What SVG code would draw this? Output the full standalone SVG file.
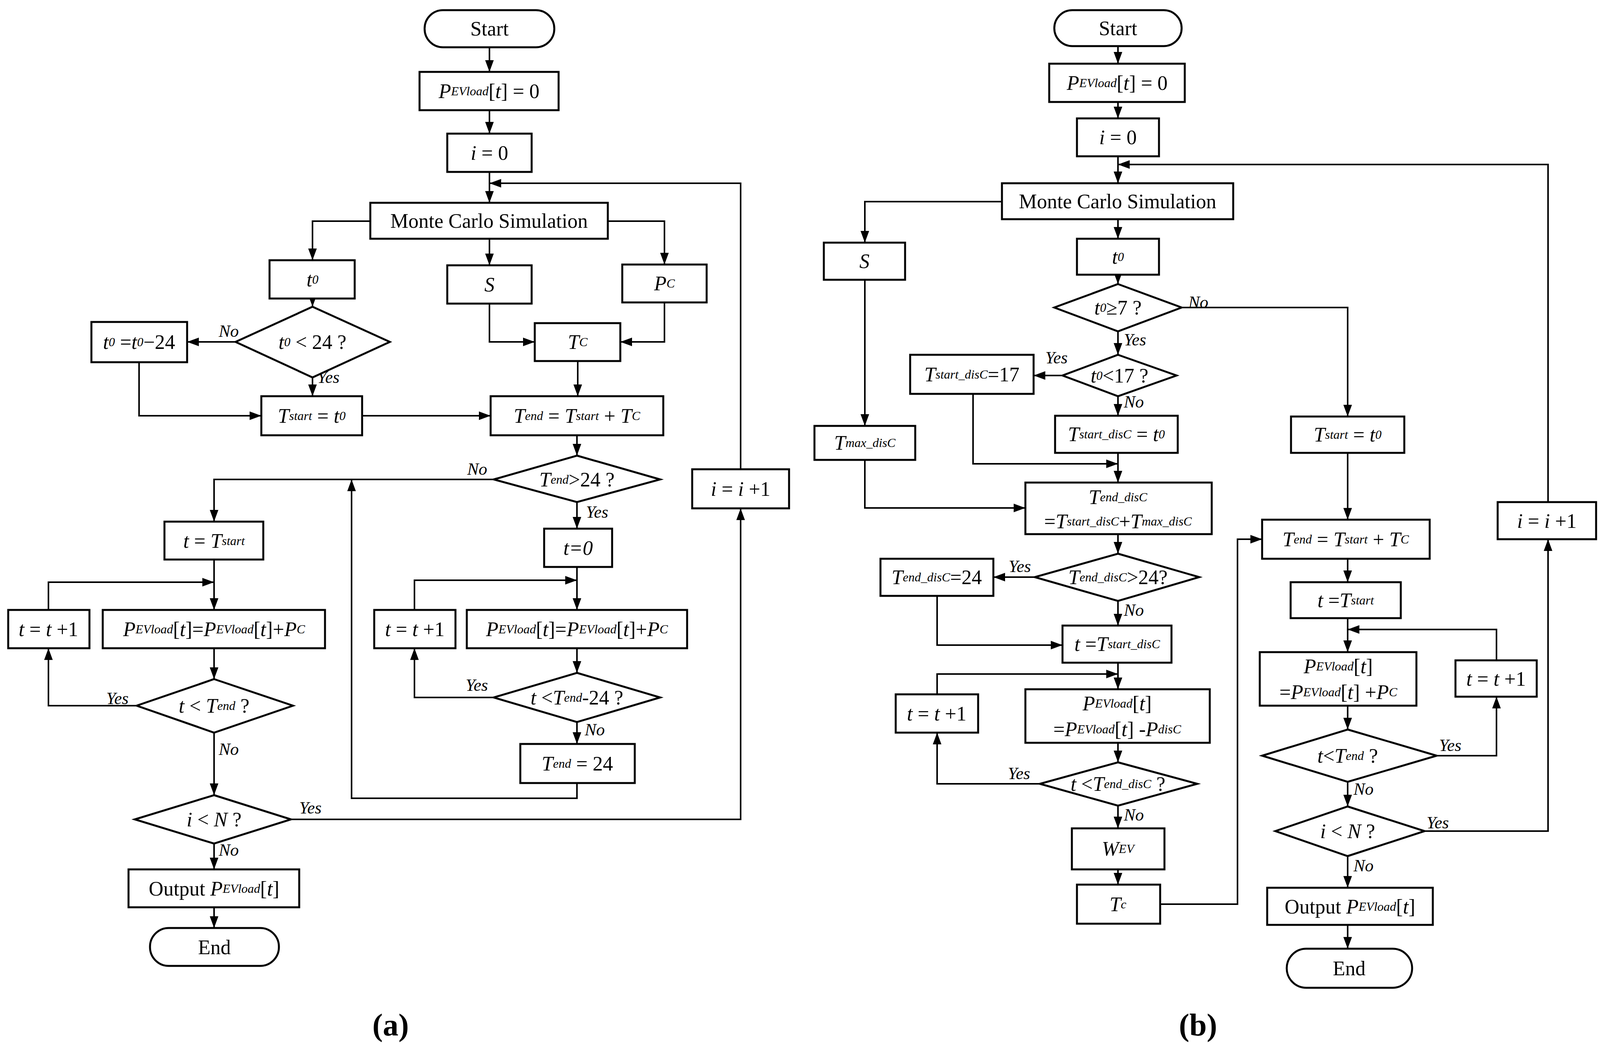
<svg xmlns="http://www.w3.org/2000/svg" width="4129" height="2677" viewBox="0 0 4129 2677">
<defs>
<marker id="ar" markerUnits="userSpaceOnUse" markerWidth="32" markerHeight="24" refX="30" refY="11" orient="auto"><path d="M0,0 L30,11 L0,22 z" fill="#000"/></marker>
<style>
.b{fill:#fff;stroke:#000;stroke-width:5}
.c{fill:none;stroke:#000;stroke-width:4;marker-end:url(#ar)}
.n{fill:none;stroke:#000;stroke-width:4}
text{font-family:"Liberation Serif",serif;font-size:52px;fill:#000}
.t{text-anchor:middle;dominant-baseline:central}
.i{font-style:italic}
.s{font-style:italic;font-size:32px}
.l{font-style:italic;font-size:44px}
.cap{font-size:80px;font-weight:bold;text-anchor:middle}
</style>
</defs>
<rect width="4129" height="2677" fill="#fff"/>
<g id="connectors">
<path class="c" d="M1253,121V184"/><path class="c" d="M1253,282V342"/><path class="c" d="M1253,440V519"/>
<path class="c" d="M1896,1201V469H1253"/>
<path class="c" d="M948,566H800V666"/><path class="c" d="M1253,611V679"/><path class="c" d="M1556,566H1701V677"/>
<path class="c" d="M800,764V785"/><path class="c" d="M603,875H479"/><path class="c" d="M800,966V1014"/>
<path class="c" d="M356,927V1064H669"/><path class="c" d="M927,1064H1256"/>
<path class="c" d="M1253,777V875H1369"/><path class="c" d="M1701,774V875H1588"/>
<path class="c" d="M1479,924V1014"/><path class="c" d="M1477,1114V1166"/>
<path class="c" d="M1264,1227H548V1335"/><path class="c" d="M1477,1285V1353"/>
<path class="c" d="M548,1432V1561"/><path class="c" d="M548,1659V1738"/>
<path class="c" d="M350,1806H124V1659"/><path class="c" d="M124,1561V1490H548"/>
<path class="c" d="M548,1875V2035"/><path class="c" d="M548,2159V2225"/><path class="c" d="M548,2322V2375"/>
<path class="c" d="M745,2097H1896V1301"/>
<path class="c" d="M1477,1451V1561"/><path class="c" d="M1477,1659V1722"/>
<path class="c" d="M1264,1785H1061V1659"/><path class="c" d="M1061,1561V1485H1477"/>
<path class="c" d="M1477,1848V1904"/><path class="c" d="M1477,2004V2043H900V1227"/>

<path class="c" d="M2862,118V163"/><path class="c" d="M2862,261V303"/><path class="c" d="M2862,400V469"/>
<path class="c" d="M3963,1285V421H2862"/>
<path class="c" d="M2565,516H2214V621"/><path class="c" d="M2862,561V611"/><path class="c" d="M2862,703V727"/>
<path class="c" d="M3025,787H3450V1066"/><path class="c" d="M2862,848V908"/><path class="c" d="M2720,961H2646"/>
<path class="c" d="M2862,1014V1064"/><path class="c" d="M2491,1008V1187H2862"/><path class="c" d="M2862,1159V1235"/>
<path class="c" d="M2214,716V1090"/><path class="c" d="M2214,1177V1300H2625"/>
<path class="c" d="M2862,1367V1417"/><path class="c" d="M2649,1477H2543"/><path class="c" d="M2862,1538V1601"/>
<path class="c" d="M2399,1525V1651H2720"/><path class="c" d="M2862,1696V1764"/><path class="c" d="M2862,1901V1951"/>
<path class="c" d="M2662,2006H2399V1875"/><path class="c" d="M2399,1777V1725H2862"/>
<path class="c" d="M2862,2062V2120"/><path class="c" d="M2862,2225V2264"/>
<path class="c" d="M2970,2314H3168V1380H3231"/>
<path class="c" d="M3450,1159V1330"/><path class="c" d="M3450,1430V1490"/><path class="c" d="M3450,1582V1669"/>
<path class="c" d="M3450,1806V1867"/><path class="c" d="M3678,1934H3831V1783"/><path class="c" d="M3831,1690V1611H3450"/>
<path class="c" d="M3450,2001V2064"/><path class="c" d="M3647,2127H3963V1380"/><path class="c" d="M3450,2191V2272"/>
<path class="c" d="M3450,2367V2428"/>
<text class="l" x="560" y="862">No</text><text class="l" x="812" y="980">Yes</text>
<text class="l" x="1196" y="1215">No</text><text class="l" x="1500" y="1325">Yes</text>
<text class="l" x="272" y="1802">Yes</text><text class="l" x="560" y="1932">No</text>
<text class="l" x="560" y="2190">No</text><text class="l" x="766" y="2082">Yes</text>
<text class="l" x="1192" y="1768">Yes</text><text class="l" x="1497" y="1882">No</text>
<text class="l" x="3042" y="788">No</text><text class="l" x="2877" y="884">Yes</text>
<text class="l" x="2676" y="930">Yes</text><text class="l" x="2877" y="1043">No</text>
<text class="l" x="2582" y="1464">Yes</text><text class="l" x="2877" y="1576">No</text>
<text class="l" x="2580" y="1994">Yes</text><text class="l" x="2877" y="2100">No</text>
<text class="l" x="3684" y="1922">Yes</text><text class="l" x="3465" y="2034">No</text>
<text class="l" x="3652" y="2120">Yes</text><text class="l" x="3465" y="2230">No</text>
</g>

<g id="a-start"><rect class="b" x="1087" y="26" width="332" height="95" rx="47"/><text class="t" x="1253" y="73">Start</text></g>
<g id="a-init"><rect class="b" x="1074" y="184" width="356" height="98"/><text class="t" x="1252" y="233"><tspan class="i">P</tspan><tspan class="s">EVload</tspan>[<tspan class="i">t</tspan>] = 0</text></g>
<g id="a-i0"><rect class="b" x="1145" y="342" width="216" height="98"/><text class="t" x="1253" y="391"><tspan class="i">i</tspan> = 0</text></g>
<g id="a-mc"><rect class="b" x="948" y="519" width="608" height="92"/><text class="t" x="1252" y="565">Monte Carlo Simulation</text></g>
<g id="a-t0"><rect class="b" x="690" y="666" width="218" height="98"/><text class="t" x="800" y="715"><tspan class="i">t</tspan><tspan class="s">0</tspan></text></g>
<g id="a-s"><rect class="b" x="1145" y="679" width="216" height="98"/><text class="t i" x="1253" y="728">S</text></g>
<g id="a-pc"><rect class="b" x="1593" y="677" width="216" height="97"/><text class="t" x="1701" y="725"><tspan class="i">P</tspan><tspan class="s">C</tspan></text></g>
<g id="a-d1"><polygon class="b" points="800,785 998,875 800,966 603,875"/><text class="t" x="800" y="875"><tspan class="i">t</tspan><tspan class="s">0</tspan> &lt; 24 ?</text></g>
<g id="a-t0m"><rect class="b" x="234" y="824" width="245" height="103"/><text class="t" x="356" y="875"><tspan class="i">t</tspan><tspan class="s">0</tspan> =<tspan class="i">t</tspan><tspan class="s">0</tspan>−24</text></g>
<g id="a-tc"><rect class="b" x="1369" y="827" width="219" height="97"/><text class="t" x="1479" y="875"><tspan class="i">T</tspan><tspan class="s">C</tspan></text></g>
<g id="a-tstart"><rect class="b" x="669" y="1014" width="258" height="100"/><text class="t" x="798" y="1064"><tspan class="i">T</tspan><tspan class="s">start</tspan> = <tspan class="i">t</tspan><tspan class="s">0</tspan></text></g>
<g id="a-tend"><rect class="b" x="1256" y="1014" width="442" height="100"/><text class="t" x="1477" y="1064"><tspan class="i">T</tspan><tspan class="s">end</tspan> = <tspan class="i">T</tspan><tspan class="s">start</tspan> + <tspan class="i">T</tspan><tspan class="s">C</tspan></text></g>
<g id="a-d2"><polygon class="b" points="1477,1166 1690,1227 1477,1285 1264,1227"/><text class="t" x="1477" y="1227"><tspan class="i">T</tspan><tspan class="s">end</tspan>&gt;24  ?</text></g>
<g id="a-inc"><rect class="b" x="1772" y="1201" width="248" height="100"/><text class="t" x="1896" y="1251"><tspan class="i">i</tspan> = <tspan class="i">i</tspan> +1</text></g>
<g id="a-tts"><rect class="b" x="421" y="1335" width="253" height="97"/><text class="t" x="548" y="1384"><tspan class="i">t</tspan> = <tspan class="i">T</tspan><tspan class="s">start</tspan></text></g>
<g id="a-t00"><rect class="b" x="1393" y="1353" width="174" height="98"/><text class="t i" x="1480" y="1402" font-size="40">t=0</text></g>
<g id="a-inc1"><rect class="b" x="21" y="1561" width="208" height="98"/><text class="t" x="124" y="1610"><tspan class="i">t</tspan> = <tspan class="i">t</tspan> +1</text></g>
<g id="a-pev1"><rect class="b" x="263" y="1561" width="569" height="98"/><text class="t" x="548" y="1610"><tspan class="i">P</tspan><tspan class="s">EVload</tspan>[<tspan class="i">t</tspan>]=<tspan class="i">P</tspan><tspan class="s">EVload</tspan>[<tspan class="i">t</tspan>]+<tspan class="i">P</tspan><tspan class="s">C</tspan></text></g>
<g id="a-d3"><polygon class="b" points="548,1738 750,1806 548,1875 350,1806"/><text class="t" x="548" y="1806"><tspan class="i">t</tspan> &lt; <tspan class="i">T</tspan><tspan class="s">end</tspan> ?</text></g>
<g id="a-inc2"><rect class="b" x="958" y="1561" width="208" height="98"/><text class="t" x="1062" y="1610"><tspan class="i">t</tspan> = <tspan class="i">t</tspan> +1</text></g>
<g id="a-pev2"><rect class="b" x="1195" y="1561" width="564" height="98"/><text class="t" x="1477" y="1610"><tspan class="i">P</tspan><tspan class="s">EVload</tspan>[<tspan class="i">t</tspan>]=<tspan class="i">P</tspan><tspan class="s">EVload</tspan>[<tspan class="i">t</tspan>]+<tspan class="i">P</tspan><tspan class="s">C</tspan></text></g>
<g id="a-d4"><polygon class="b" points="1477,1722 1690,1785 1477,1848 1264,1785"/><text class="t" x="1477" y="1785"><tspan class="i">t</tspan> &lt;<tspan class="i">T</tspan><tspan class="s">end</tspan>-24 ?</text></g>
<g id="a-te24"><rect class="b" x="1332" y="1904" width="293" height="100"/><text class="t" x="1478" y="1954"><tspan class="i">T</tspan><tspan class="s">end</tspan> = 24</text></g>
<g id="a-d5"><polygon class="b" points="548,2035 745,2097 548,2159 345,2097"/><text class="t" x="548" y="2097"><tspan class="i">i</tspan> &lt; <tspan class="i">N</tspan> ?</text></g>
<g id="a-out"><rect class="b" x="329" y="2225" width="437" height="97"/><text class="t" x="548" y="2274">Output  <tspan class="i">P</tspan><tspan class="s">EVload</tspan>[<tspan class="i">t</tspan>]</text></g>
<g id="a-end"><rect class="b" x="384" y="2375" width="330" height="97" rx="48"/><text class="t" x="549" y="2424">End</text></g>
<text class="cap" x="1000" y="2650">(a)</text>

<g id="b-start"><rect class="b" x="2699" y="26" width="326" height="92" rx="46"/><text class="t" x="2862" y="72">Start</text></g>
<g id="b-init"><rect class="b" x="2686" y="163" width="347" height="98"/><text class="t" x="2860" y="212"><tspan class="i">P</tspan><tspan class="s">EVload</tspan>[<tspan class="i">t</tspan>] = 0</text></g>
<g id="b-i0"><rect class="b" x="2757" y="303" width="210" height="97"/><text class="t" x="2862" y="351"><tspan class="i">i</tspan> = 0</text></g>
<g id="b-mc"><rect class="b" x="2565" y="469" width="592" height="92"/><text class="t" x="2861" y="515">Monte Carlo Simulation</text></g>
<g id="b-s"><rect class="b" x="2109" y="621" width="208" height="95"/><text class="t i" x="2213" y="668">S</text></g>
<g id="b-t0"><rect class="b" x="2757" y="611" width="210" height="92"/><text class="t" x="2862" y="657"><tspan class="i">t</tspan><tspan class="s">0</tspan></text></g>
<g id="b-d1"><polygon class="b" points="2862,727 3025,787 2862,848 2699,787"/><text class="t" x="2862" y="787"><tspan class="i">t</tspan><tspan class="s">0</tspan>≥7 ?</text></g>
<g id="b-d2"><polygon class="b" points="2862,908 3012,961 2862,1014 2720,961"/><text class="t" x="2866" y="961"><tspan class="i">t</tspan><tspan class="s">0</tspan>&lt;17 ?</text></g>
<g id="b-ts17"><rect class="b" x="2330" y="908" width="316" height="100"/><text class="t" x="2488" y="958"><tspan class="i">T</tspan><tspan class="s">start_disC</tspan>=17</text></g>
<g id="b-tst0"><rect class="b" x="2701" y="1064" width="314" height="95"/><text class="t" x="2858" y="1111"><tspan class="i">T</tspan><tspan class="s">start_disC</tspan> = <tspan class="i">t</tspan><tspan class="s">0</tspan></text></g>
<g id="b-tstart"><rect class="b" x="3305" y="1066" width="290" height="93"/><text class="t" x="3450" y="1112"><tspan class="i">T</tspan><tspan class="s">start</tspan> = <tspan class="i">t</tspan><tspan class="s">0</tspan></text></g>
<g id="b-tmax"><rect class="b" x="2085" y="1090" width="258" height="87"/><text class="t" x="2214" y="1133"><tspan class="i">T</tspan><tspan class="s">max_disC</tspan></text></g>
<g id="b-tend1"><rect class="b" x="2625" y="1235" width="477" height="132"/><text class="t" x="2862" y="1272"><tspan class="i">T</tspan><tspan class="s">end_disC</tspan></text><text class="t" x="2862" y="1334">=<tspan class="i">T</tspan><tspan class="s">start_disC</tspan>+<tspan class="i">T</tspan><tspan class="s">max_disC</tspan></text></g>
<g id="b-d3"><polygon class="b" points="2862,1417 3070,1477 2862,1538 2649,1477"/><text class="t" x="2862" y="1477"><tspan class="i">T</tspan><tspan class="s">end_disC</tspan>&gt;24?</text></g>
<g id="b-te24"><rect class="b" x="2254" y="1430" width="289" height="95"/><text class="t" x="2398" y="1477"><tspan class="i">T</tspan><tspan class="s">end_disC</tspan>=24</text></g>
<g id="b-tts"><rect class="b" x="2720" y="1601" width="279" height="95"/><text class="t" x="2860" y="1648"><tspan class="i">t</tspan> =<tspan class="i">T</tspan><tspan class="s">start_disC</tspan></text></g>
<g id="b-inc1"><rect class="b" x="2293" y="1777" width="211" height="98"/><text class="t" x="2398" y="1826"><tspan class="i">t</tspan> = <tspan class="i">t</tspan> +1</text></g>
<g id="b-pev1"><rect class="b" x="2625" y="1764" width="472" height="137"/><text class="t" x="2860" y="1800"><tspan class="i">P</tspan><tspan class="s">EVload</tspan>[<tspan class="i">t</tspan>]</text><text class="t" x="2860" y="1866">=<tspan class="i">P</tspan><tspan class="s">EVload</tspan>[<tspan class="i">t</tspan>] -<tspan class="i">P</tspan><tspan class="s">disC</tspan></text></g>
<g id="b-d4"><polygon class="b" points="2862,1951 3065,2006 2862,2062 2662,2006"/><text class="t" x="2862" y="2006"><tspan class="i">t</tspan> &lt;<tspan class="i">T</tspan><tspan class="s">end_disC</tspan> ?</text></g>
<g id="b-wev"><rect class="b" x="2744" y="2120" width="237" height="105"/><text class="t" x="2862" y="2172"><tspan class="i">W</tspan><tspan class="s">EV</tspan></text></g>
<g id="b-tc"><rect class="b" x="2757" y="2264" width="213" height="100"/><text class="t" x="2862" y="2314"><tspan class="i">T</tspan><tspan class="s">c</tspan></text></g>
<g id="b-tend"><rect class="b" x="3231" y="1330" width="429" height="100"/><text class="t" x="3445" y="1380"><tspan class="i">T</tspan><tspan class="s">end</tspan> = <tspan class="i">T</tspan><tspan class="s">start</tspan> + <tspan class="i">T</tspan><tspan class="s">C</tspan></text></g>
<g id="b-ttst"><rect class="b" x="3304" y="1490" width="282" height="92"/><text class="t" x="3445" y="1536"><tspan class="i">t</tspan> =<tspan class="i">T</tspan><tspan class="s">start</tspan></text></g>
<g id="b-pev2"><rect class="b" x="3225" y="1669" width="401" height="137"/><text class="t" x="3426" y="1705"><tspan class="i">P</tspan><tspan class="s">EVload</tspan>[<tspan class="i">t</tspan>]</text><text class="t" x="3426" y="1771">=<tspan class="i">P</tspan><tspan class="s">EVload</tspan>[<tspan class="i">t</tspan>] +<tspan class="i">P</tspan><tspan class="s">C</tspan></text></g>
<g id="b-inc2"><rect class="b" x="3726" y="1690" width="208" height="93"/><text class="t" x="3830" y="1737"><tspan class="i">t</tspan> = <tspan class="i">t</tspan> +1</text></g>
<g id="b-d5"><polygon class="b" points="3450,1867 3678,1934 3450,2001 3231,1934"/><text class="t" x="3450" y="1934"><tspan class="i">t</tspan>&lt;<tspan class="i">T</tspan><tspan class="s">end</tspan> ?</text></g>
<g id="b-inc"><rect class="b" x="3834" y="1285" width="252" height="95"/><text class="t" x="3960" y="1333"><tspan class="i">i</tspan> = <tspan class="i">i</tspan> +1</text></g>
<g id="b-d6"><polygon class="b" points="3450,2064 3647,2127 3450,2191 3265,2127"/><text class="t" x="3450" y="2127"><tspan class="i">i</tspan> &lt; <tspan class="i">N</tspan> ?</text></g>
<g id="b-out"><rect class="b" x="3244" y="2272" width="424" height="95"/><text class="t" x="3456" y="2320">Output  <tspan class="i">P</tspan><tspan class="s">EVload</tspan>[<tspan class="i">t</tspan>]</text></g>
<g id="b-end"><rect class="b" x="3294" y="2428" width="321" height="100" rx="50"/><text class="t" x="3454" y="2478">End</text></g>
<text class="cap" x="3067" y="2650">(b)</text>
</svg>
